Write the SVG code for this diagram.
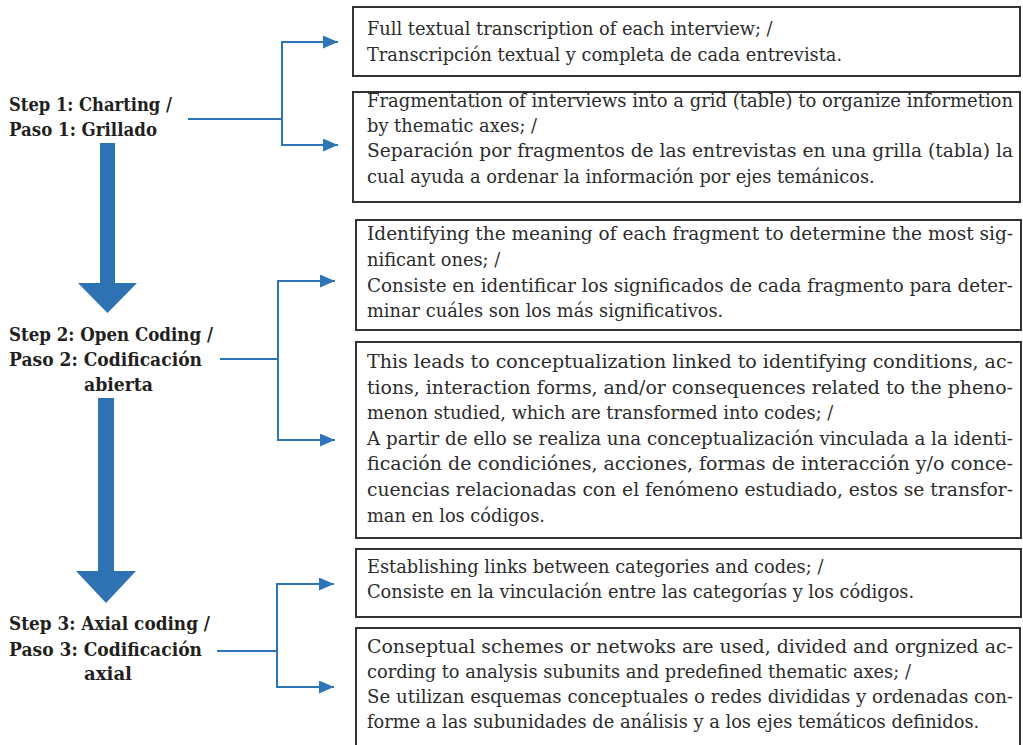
<svg xmlns="http://www.w3.org/2000/svg" width="1023" height="745" viewBox="0 0 1023 745">
<defs>
<style>
.box{fill:#fff;stroke:#333;stroke-width:2}
.t{font-family:"DejaVu Serif","Liberation Serif",serif;font-size:17.8px;fill:#2b2b2b}
.lbl{font-family:"DejaVu Serif","Liberation Serif",serif;font-size:19px;font-weight:bold;fill:#231f20}
.con{fill:none;stroke:#2e75b6;stroke-width:2}
.big{fill:#2e72b3}
</style>
<marker id="ah" markerUnits="userSpaceOnUse" markerWidth="16" markerHeight="14" refX="15" refY="6.5" orient="auto">
<path d="M0,0 L15,6.5 L0,13 z" fill="#2e75b6"/>
</marker>
</defs>
<rect width="1023" height="745" fill="#fff"/>

<g id="step1">
<text class="lbl" x="9" y="111" textLength="163" lengthAdjust="spacingAndGlyphs">Step 1: Charting /</text>
<text class="lbl" x="9" y="136" textLength="148" lengthAdjust="spacingAndGlyphs">Paso 1: Grillado</text>
</g>
<g id="step2">
<text class="lbl" x="9" y="341" textLength="204" lengthAdjust="spacingAndGlyphs">Step 2: Open Coding /</text>
<text class="lbl" x="9" y="366" textLength="193" lengthAdjust="spacingAndGlyphs">Paso 2: Codificación</text>
<text class="lbl" x="84" y="391" textLength="69" lengthAdjust="spacingAndGlyphs">abierta</text>
</g>
<g id="step3">
<text class="lbl" x="9" y="630" textLength="201" lengthAdjust="spacingAndGlyphs">Step 3: Axial coding /</text>
<text class="lbl" x="9" y="656" textLength="193" lengthAdjust="spacingAndGlyphs">Paso 3: Codificación</text>
<text class="lbl" x="84" y="680" textLength="48" lengthAdjust="spacingAndGlyphs">axial</text>
</g>

<g id="box1">
<rect class="box" x="353" y="7" width="667" height="69"/>
<text class="t" x="367" y="35">Full textual transcription of each interview; /</text>
<text class="t" x="367" y="61">Transcripción textual y completa de cada entrevista.</text>
</g>
<g id="box2">
<rect class="box" x="353" y="92" width="667" height="110"/>
<text class="t" x="367" y="107" textLength="646" lengthAdjust="spacingAndGlyphs">Fragmentation of interviews into a grid (table) to organize informetion</text>
<text class="t" x="367" y="132">by thematic axes; /</text>
<text class="t" x="367" y="157" textLength="646" lengthAdjust="spacingAndGlyphs">Separación por fragmentos de las entrevistas en una grilla (tabla) la</text>
<text class="t" x="367" y="183">cual ayuda a ordenar la información por ejes temánicos.</text>
</g>
<g id="box3">
<rect class="box" x="356" y="220" width="665" height="110"/>
<text class="t" x="367" y="240" textLength="646" lengthAdjust="spacingAndGlyphs">Identifying the meaning of each fragment to determine  the most sig-</text>
<text class="t" x="367" y="266">nificant  ones; /</text>
<text class="t" x="367" y="292" textLength="646" lengthAdjust="spacingAndGlyphs">Consiste en identificar los significados de cada fragmento para deter-</text>
<text class="t" x="367" y="317">minar cuáles son los más significativos.</text>
</g>
<g id="box4">
<rect class="box" x="356" y="342" width="665" height="196"/>
<text class="t" x="367" y="368" textLength="646" lengthAdjust="spacingAndGlyphs">This leads to conceptualization linked to identifying conditions, ac-</text>
<text class="t" x="367" y="394" textLength="646" lengthAdjust="spacingAndGlyphs">tions, interaction forms, and/or consequences related to the pheno-</text>
<text class="t" x="367" y="419">menon studied, which are transformed into codes; /</text>
<text class="t" x="367" y="445" textLength="646" lengthAdjust="spacingAndGlyphs">A partir de ello se realiza una conceptualización vinculada a la identi-</text>
<text class="t" x="367" y="470" textLength="646" lengthAdjust="spacingAndGlyphs">ficación de condiciónes, acciones, formas de interacción  y/o conce-</text>
<text class="t" x="367" y="496" textLength="646" lengthAdjust="spacingAndGlyphs">cuencias relacionadas con el fenómeno estudiado, estos se transfor-</text>
<text class="t" x="367" y="522">man en los códigos.</text>
</g>
<g id="box5">
<rect class="box" x="356" y="549" width="665" height="68"/>
<text class="t" x="367" y="573">Establishing links between categories and codes; /</text>
<text class="t" x="367" y="598">Consiste en la vinculación entre las categorías y los códigos.</text>
</g>
<g id="box6">
<rect class="box" x="356" y="628" width="664" height="130"/>
<text class="t" x="367" y="653" textLength="646" lengthAdjust="spacingAndGlyphs">Conseptual schemes or netwoks are used, divided and orgnized ac-</text>
<text class="t" x="367" y="678">cording to analysis subunits and predefined thematic axes; /</text>
<text class="t" x="367" y="703" textLength="646" lengthAdjust="spacingAndGlyphs">Se utilizan esquemas conceptuales o redes divididas y ordenadas con-</text>
<text class="t" x="367" y="728">forme a las subunidades de análisis y a los ejes temáticos definidos.</text>
</g>

<g id="connectors">
<path class="big" d="M100,143 H115 V283 H137 L107.5,313 L78,283 H100 Z"/>
<path class="big" d="M98,398 H114 V571 H136 L106,603 L76,571 H98 Z"/>
<path class="con" d="M188,119 H282"/>
<path class="con" d="M282,119 V42 H338" marker-end="url(#ah)"/>
<path class="con" d="M282,119 V145 H338" marker-end="url(#ah)"/>
<path class="con" d="M220,359 H278"/>
<path class="con" d="M278,359 V281 H335" marker-end="url(#ah)"/>
<path class="con" d="M278,359 V440 H335" marker-end="url(#ah)"/>
<path class="con" d="M217,651 H277"/>
<path class="con" d="M277,651 V584 H334" marker-end="url(#ah)"/>
<path class="con" d="M277,651 V687 H334" marker-end="url(#ah)"/>
</g>
</svg>
